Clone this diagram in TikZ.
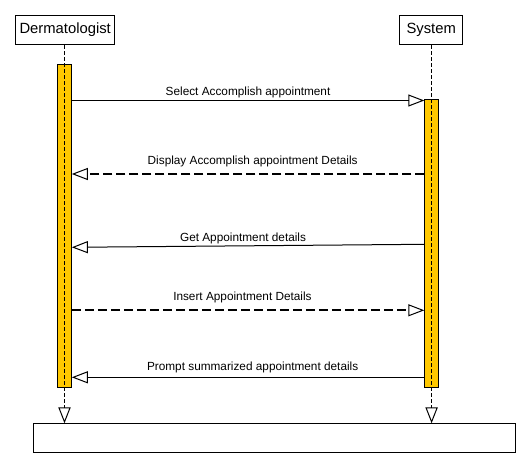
\documentclass[tikz,border=0pt]{standalone}
\usepackage{fontspec}
\setmainfont{Liberation Sans}
\usetikzlibrary{positioning, arrows.meta}

\definecolor{barcol}{HTML}{FFC800}

\tikzset{
  actor/.style={draw, rectangle, line width=1pt, minimum height=29pt, inner sep=0pt, font=\fontsize{14.8}{16}\selectfont},
  bar/.style={draw, rectangle, fill=barcol, line width=1pt, minimum width=13.6pt, inner sep=0pt},
  lifeline/.style={line width=1pt, dash pattern=on 4pt off 2pt, -{Triangle[open, length=16pt, width=12.3pt, line width=1pt]}},
  msg/.style={line width=1pt, -{Triangle[open, length=16pt, width=12pt, line width=1pt]}},
  reply/.style={msg, line width=2pt, dash pattern=on 9pt off 4pt},
  lbl/.style={font=\fontsize{11.8}{13}\selectfont, inner sep=0pt}
}

\begin{document}
\begin{tikzpicture}[x=1pt, y=-1pt]

\useasboundingbox (0,0) rectangle (531,469);

\node (derm) [actor, minimum width=99.3pt] at (65.2,30) {Dermatologist};
\node (sys) [actor, minimum width=63.3pt] at (431.2,30) {System};
\node (actD) [bar, minimum height=323.3pt] at (64.5,226.2) {};
\node (actS) [bar, minimum height=288pt] at (431.6,243.8) {};
\node (frame) [draw, rectangle, line width=1pt, minimum width=482pt, minimum height=29pt, inner sep=0pt] at (274.8,438.3) {};

\draw[lifeline] (actD.center |- derm.south) -- (actD.center |- frame.north);
\draw[lifeline] (actS.center |- sys.south) -- (actS.center |- frame.north);

\draw[msg] (actD.east |- 0,100.5) -- (actS.west |- 0,100.5) node[lbl, midway, above=2pt] {Select Accomplish appointment};
\draw[reply] (actS.west |- 0,174) -- (actD.east |- 0,174) node[lbl, midway, above=6.5pt, xshift=4.6pt] {Display Accomplish appointment Details};
\draw[msg] (actS.west |- 0,244.3) -- (actD.east |- 0,247.3) node[lbl, midway, above=1.6pt, xshift=-5pt] {Get Appointment details};
\draw[reply] (actD.east |- 0,310.3) -- (actS.west |- 0,310.3) node[lbl, midway, above=6pt, xshift=-5.6pt] {Insert Appointment Details};
\draw[msg] (actS.west |- 0,377.3) -- (actD.east |- 0,377.3) node[lbl, midway, above=3.8pt, xshift=4.6pt] {Prompt summarized appointment details};

\end{tikzpicture}
\end{document}
